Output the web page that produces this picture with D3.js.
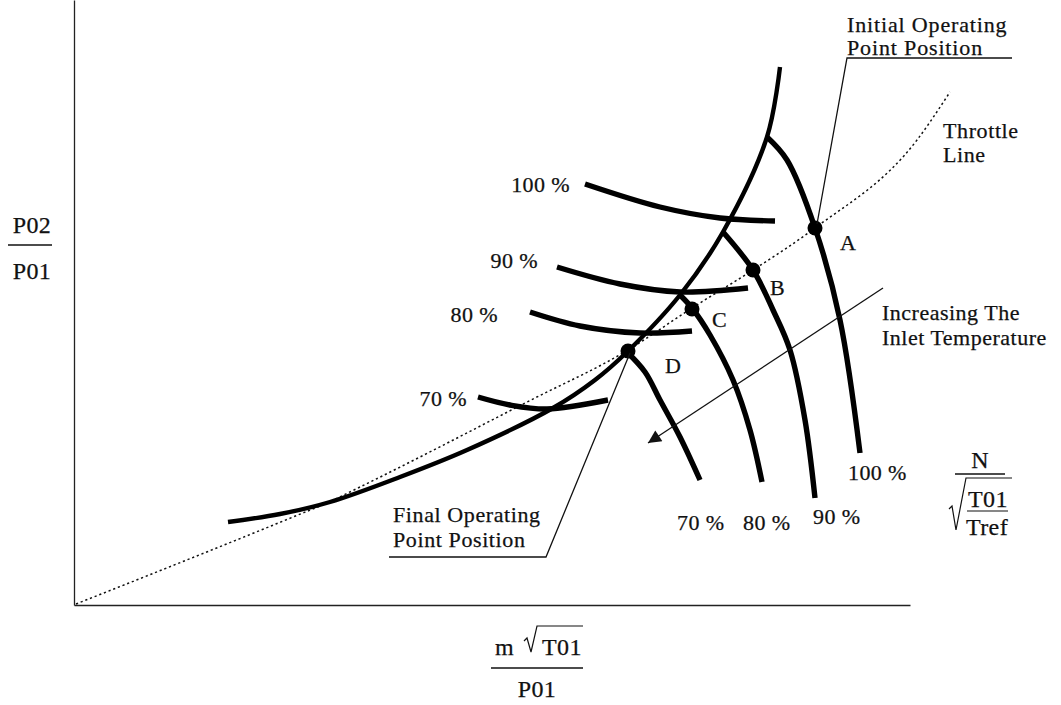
<!DOCTYPE html>
<html>
<head>
<meta charset="utf-8">
<script src="https://cdn.jsdelivr.net/npm/d3@7"></script>
<style>
  html, body { margin: 0; padding: 0; background: #fff; }
  svg { display: block; }
  text { font-family: "Liberation Serif", "Times New Roman", serif; fill: #111; stroke: #111; stroke-width: 0.25px; }
</style>
</head>
<body>
<svg id="chart" width="1061" height="705"></svg>
<script>
// ---- Data (schematic units: corrected mass flow vs pressure ratio) ----
const speedLabels = ["70 %", "80 %", "90 %", "100 %"];

// Surge line
const surgeLine = [[154,83],[206,91],[256,103],[326,128],[393,155],[479,197],[521,225],[553,253],[606,310],[649,373],[693,468],[706,538]];

// Throttle line (dotted)
const throttleLine = [[2,1],[219,88],[253,102],[286,118],[453,203],[554,255],[618,297],[679,335],[741,377],[843,465],[876,513]];

// Constant corrected speed lines after increase of inlet temperature (steep, right-hand branch)
const speed70Right  = [[553,253],[571,233],[586,205],[606,168],[626,125]];
const speed80Right  = [[606,310],[618,297],[636,270],[659,225],[676,175],[688,123]];
const speed90Right  = [[649,373],[679,335],[699,295],[716,255],[731,185],[741,107]];
const speed100Right = [[693,468],[713,445],[741,377],[766,285],[786,152]];

// Constant speed lines crossing the surge line (left-hand, near horizontal)
const speed70Left  = [[404,208],[436,200],[473,196],[534,205]];
const speed80Left  = [[456,293],[506,279],[566,272],[618,274]];
const speed90Left  = [[483,338],[546,321],[606,313],[674,317]];
const speed100Left = [[511,421],[586,398],[646,387],[701,384]];

// Operating points
const pointIds = ["A", "B", "C", "D"];
const pointX = [741, 679, 618, 554];
const pointY = [377, 335, 296, 254];

// Arrow: increasing inlet temperature
const arrowFrom = [809, 317];
const arrowTo = [574, 162];

// ---- Drawing ----
const svg = d3.select("#chart");
const x = d3.scaleLinear().domain([0, 836]).range([74, 910]);
const y = d3.scaleLinear().domain([0, 605]).range([605, 0]);

// Axes (no ticks, schematic)
const xAxis = d3.axisBottom(x).tickValues([]).tickSizeOuter(0);
const yAxis = d3.axisLeft(y).tickValues([]).tickSizeOuter(0);
svg.append("g").attr("transform", `translate(0,${y(0)})`).call(xAxis)
   .select(".domain").attr("stroke", "#222").attr("stroke-width", 1.3);
svg.append("g").attr("transform", `translate(${x(0)},0)`).call(yAxis)
   .select(".domain").attr("stroke", "#222").attr("stroke-width", 1.3);

const line = d3.line().x(d => x(d[0])).y(d => y(d[1])).curve(d3.curveCatmullRom.alpha(0.5));
const smooth = d3.line().x(d => x(d[0])).y(d => y(d[1])).curve(d3.curveMonotoneX);

// Throttle line
svg.append("path").attr("d", smooth(throttleLine))
  .attr("fill", "none").attr("stroke", "#111").attr("stroke-width", 1.5)
  .attr("stroke-dasharray", "2.2,2.8");

// Speed lines
const thick = [speed70Left, speed80Left, speed90Left, speed100Left,
               speed70Right, speed80Right, speed90Right, speed100Right];
thick.forEach(s => {
  svg.append("path").attr("d", line(s))
    .attr("fill", "none").attr("stroke", "#000").attr("stroke-width", 5.4)
    .attr("stroke-linecap", "butt");
});

// Surge line
svg.append("path").attr("d", line(surgeLine))
  .attr("fill", "none").attr("stroke", "#000").attr("stroke-width", 4.4);

// Operating points
pointIds.forEach((id, i) => {
  svg.append("circle").attr("cx", x(pointX[i])).attr("cy", y(pointY[i]))
    .attr("r", 7.5).attr("fill", "#000");
});

const fs = 22;
function label(txt, px, py, anchor, size, ls) {
  return svg.append("text").attr("x", px).attr("y", py)
    .attr("text-anchor", anchor || "start")
    .attr("font-size", size || fs).attr("letter-spacing", (ls === undefined ? 0.4 : ls) + "px").text(txt);
}

// Point letters
const letterPos = [[840, 250], [770, 295], [712, 327], [665, 373]];
pointIds.forEach((id, i) => label(id, letterPos[i][0], letterPos[i][1]));

// Left speed labels (near surge)
label(speedLabels[3], 570, 192, "end");
label(speedLabels[2], 538, 268, "end");
label(speedLabels[1], 498, 322, "end");
label(speedLabels[0], 467, 406, "end");

// Right speed labels (bottom)
label(speedLabels[3], 848, 480);
label(speedLabels[2], 813, 524);
label(speedLabels[1], 743, 530);
label(speedLabels[0], 677, 530);

// Throttle line label
label("Throttle", 943, 138, "start", 22, 0.6);
label("Line", 943, 162, "start", 22, 0.6);

// Initial operating point annotation
label("Initial Operating", 847, 32, "start", 22, 0.85);
label("Point Position", 847, 55, "start", 22, 0.85);
svg.append("path")
  .attr("d", `M${1012},58 L847,58 L${x(pointX[0]) + 2},${y(pointY[0]) - 4}`)
  .attr("fill", "none").attr("stroke", "#111").attr("stroke-width", 1.3);

// Final operating point annotation
label("Final Operating", 393, 522, "start", 22, 0.6);
label("Point Position", 393, 547, "start", 22, 0.6);
svg.append("path")
  .attr("d", `M389,557 L546,557 L${x(pointX[3]) + 2},${y(pointY[3]) + 2}`)
  .attr("fill", "none").attr("stroke", "#111").attr("stroke-width", 1.3);

// Increasing inlet temperature arrow
svg.append("defs").append("marker")
  .attr("id", "ah").attr("viewBox", "0 0 10 10").attr("refX", 10).attr("refY", 5)
  .attr("markerWidth", 24).attr("markerHeight", 13).attr("markerUnits", "userSpaceOnUse")
  .attr("orient", "auto")
  .append("path").attr("d", "M0,0 L10,5 L0,10 Z").attr("fill", "#111");
svg.append("line")
  .attr("x1", x(arrowFrom[0])).attr("y1", y(arrowFrom[1]))
  .attr("x2", x(arrowTo[0])).attr("y2", y(arrowTo[1]))
  .attr("stroke", "#111").attr("stroke-width", 1.3).attr("marker-end", "url(#ah)");
label("Increasing The", 882, 320, "start", 22, 0.5);
label("Inlet Temperature", 882, 345, "start", 22, 0.5);

// Y-axis label: P02 / P01
label("P02", 32, 233, "middle", 24);
svg.append("line").attr("x1", 8).attr("x2", 52).attr("y1", 245).attr("y2", 245)
  .attr("stroke", "#111").attr("stroke-width", 1.3);
label("P01", 32, 279, "middle", 24);

// X-axis label: m sqrt(T01) / P01
label("m", 495, 655, "start", 24);
svg.append("path").attr("d", "M524,641 L527,638 L531,652 L537,626 L583,626")
  .attr("fill", "none").attr("stroke", "#111").attr("stroke-width", 1.2);
label("T01", 542, 655, "start", 24);
svg.append("line").attr("x1", 491).attr("x2", 583).attr("y1", 668).attr("y2", 668)
  .attr("stroke", "#111").attr("stroke-width", 1.3);
label("P01", 537, 697, "middle", 24);

// Speed parameter label: N / sqrt(T01/Tref)
label("N", 980, 468, "middle", 24);
svg.append("line").attr("x1", 955).attr("x2", 1005).attr("y1", 474).attr("y2", 474)
  .attr("stroke", "#111").attr("stroke-width", 1.3);
svg.append("path").attr("d", "M949,509 L952,506 L956,530 L966,478 L1012,478")
  .attr("fill", "none").attr("stroke", "#111").attr("stroke-width", 1.2);
label("T01", 988, 507, "middle", 24);
svg.append("line").attr("x1", 967).attr("x2", 1008).attr("y1", 511).attr("y2", 511)
  .attr("stroke", "#111").attr("stroke-width", 1.2);
label("Tref", 987, 535, "middle", 24);
</script>
</body>
</html>
